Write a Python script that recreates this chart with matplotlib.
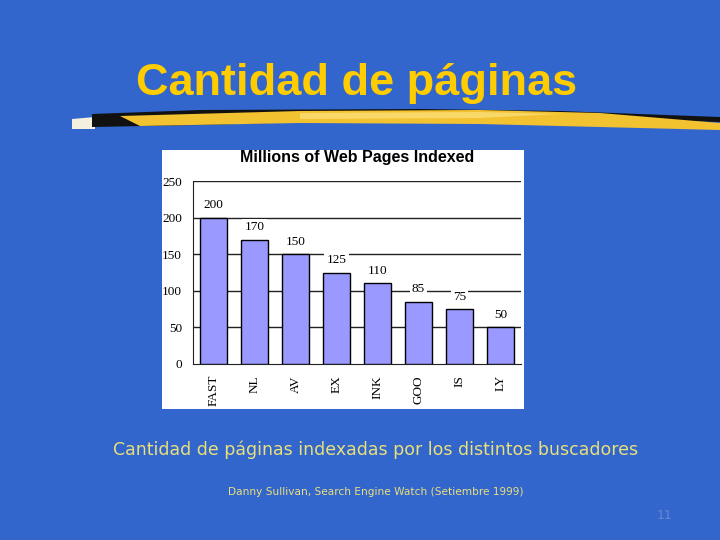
import matplotlib
matplotlib.use("Agg")
import matplotlib.pyplot as plt
from matplotlib.patches import Rectangle, Polygon

engines = ["FAST", "NL", "AV", "EX", "INK", "GOO", "IS", "LY"]
pages = [200, 170, 150, 125, 110, 85, 75, 50]
yticks = [0, 50, 100, 150, 200, 250]

BG = "#3366cc"
YELLOW = "#ffcc00"

fig = plt.figure(figsize=(7.2, 5.4), dpi=100)
fig.patch.set_facecolor(BG)

W, H = 720.0, 540.0

# slide title
fig.text(357 / W, 1 - 95 / H, "Cantidad de páginas", ha="center", va="baseline",
         fontsize=32.5, fontweight="bold", color=YELLOW, family="Liberation Sans")

# brush stroke under the title (figure coords, in pixels)
def poly(pts, color, z=1):
    fig.patches.append(Polygon([(x / W, 1 - y / H) for x, y in pts], closed=True,
                               transform=fig.transFigure, facecolor=color,
                               edgecolor="none", zorder=z))
poly([(72, 119), (95, 117), (95, 129), (72, 129)], "#f4f0e0")
poly([(92, 114), (200, 110), (420, 109), (560, 111), (720, 117), (720, 122),
      (560, 118), (420, 119), (200, 125), (92, 127)], "#111111")
poly([(120, 116), (300, 111), (480, 110), (600, 113), (720, 123), (720, 130),
      (600, 127), (480, 124), (300, 123), (140, 126)], "#f2c230", 2)
poly([(300, 113), (480, 112), (560, 114), (480, 118), (300, 119)], "#f8d868", 3)

# white picture frame of the embedded chart
fig.patches.append(Rectangle((162 / W, 1 - 409 / H), 362 / W, 259 / H,
                             transform=fig.transFigure, facecolor="white",
                             edgecolor="none", zorder=1))

ax = fig.add_axes([193 / W, 1 - 364 / H, 328 / W, 183 / H])
ax.set_zorder(5)
ax.set_facecolor("white")
x = range(len(engines))
ax.bar(x, pages, width=0.68, color="#9999ff", edgecolor="black", linewidth=1.0, zorder=3)
for i, v in enumerate(pages):
    ax.text(i, v + 9, str(v), ha="center", va="bottom", fontsize=9.5,
            family="Liberation Serif", zorder=4,
            bbox=dict(facecolor="white", edgecolor="none", pad=1.5))
for t in yticks[1:]:
    ax.axhline(t, color="#222222", lw=1.0, zorder=1)
ax.set_xlim(-0.5, len(engines) - 0.5)
ax.set_ylim(0, 250)
ax.set_yticks(yticks)
ax.set_xticks(list(x))
ax.set_xticklabels(engines, rotation=90)
ax.tick_params(length=0, labelsize=9.5, pad=8)
for lab in ax.get_xticklabels() + ax.get_yticklabels():
    lab.set_family("Liberation Serif")
for s in ["top", "right"]:
    ax.spines[s].set_visible(False)
ax.spines["left"].set_color("#222222")
ax.spines["bottom"].set_color("#222222")
ax.set_title("Millions of Web Pages Indexed", fontsize=11.5, fontweight="bold",
             family="Liberation Sans", pad=14)

# captions
fig.text(375.5 / W, 1 - 455 / H, "Cantidad de páginas indexadas por los distintos buscadores",
         ha="center", va="baseline", fontsize=12.5, color="#e8e07a", family="DejaVu Sans")
fig.text(375.5 / W, 1 - 495 / H, "Danny Sullivan, Search Engine Watch (Setiembre 1999)",
         ha="center", va="baseline", fontsize=7.6, color="#e8e07a", family="DejaVu Sans")
fig.text(665 / W, 1 - 519 / H, "11", ha="center", va="baseline", fontsize=9,
         color="#6688cc", family="DejaVu Sans")

fig.savefig("out.png", dpi=100, facecolor=BG)
